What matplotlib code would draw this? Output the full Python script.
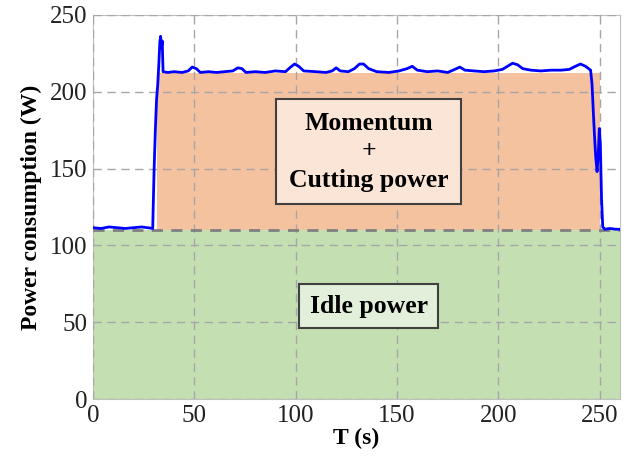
import numpy as np
import matplotlib
matplotlib.use("Agg")
import matplotlib.pyplot as plt

# measured power trace
t = [0, 4, 8, 12, 16, 20, 24, 27, 29.5, 30.2, 30.8, 31.4, 32.0, 32.6, 33.0, 33.4, 33.8, 34.2, 34.6,
     37, 40, 44, 47, 49, 51, 53, 57, 61, 65, 69, 71.5, 73.5, 75.5, 80, 85, 90, 95, 97.5, 99.5, 101.5,
     104, 110, 115, 118, 120, 122, 126, 129, 131.5, 133.5, 136, 140, 146, 151, 155, 157.5, 160, 165,
     170, 175, 178.5, 181, 183.5, 188, 193, 198, 202, 204.5, 207, 209.5, 212, 216, 221, 226, 231,
     235, 238, 240.5, 243, 245.5, 246.2, 246.8, 247.4, 248.0, 248.7, 249.3, 249.8, 250.3, 250.9,
     251.5, 252.5, 255, 258, 260]
power = [111.5, 111, 112, 111.5, 111, 111.5, 112, 111.5, 111, 150, 175, 195, 205, 220, 232, 236, 228,
         233, 213, 212.5, 213, 212.5, 213.5, 216, 215, 212.5, 213, 212.5, 213, 213.5, 215.5, 215, 212.5,
         213, 212.5, 213.5, 213, 216, 218, 216.5, 213.5, 213, 212.5, 213.5, 215.5, 213.5, 213, 215,
         218, 218, 215, 213, 212.5, 213.5, 215, 216.5, 214, 213, 213.5, 212.5, 214.5, 216, 214, 213.5,
         213, 213.5, 214.5, 216.5, 218.5, 217.5, 215, 214, 213.5, 214, 214, 214.5, 216.5, 218, 216.5,
         214, 205, 188, 172, 158, 148, 160, 176, 166, 130, 112, 110.5, 111, 110.5, 110.5]

idle_level = 110
cut_start, cut_end, cut_level = 31.5, 250, 212

plt.rcParams['font.family'] = ['Liberation Serif', 'DejaVu Serif']

fig = plt.figure(figsize=(6.32, 4.63), dpi=100)
ax = fig.add_axes([0.147, 0.138, 0.834, 0.830])

ax.fill_between([0, 260], 0, idle_level, color='#c4dfb2', zorder=1, lw=0)
ax.fill_between([cut_start, cut_end], idle_level, cut_level, color='#f5c2a0', zorder=1, lw=0)
ax.axhline(idle_level, color='#7f7f7f', ls=(0, (4, 3)), lw=2, zorder=3)
ax.plot(t, power, color='#0000ff', lw=2, zorder=4)

ax.set_xlim(0, 260)
ax.set_ylim(0, 250)
ax.set_xticks([0, 50, 100, 150, 200, 250])
ax.set_yticks([0, 50, 100, 150, 200, 250])
ax.grid(True, color='#a6a6a6', ls=(0, (6, 4)), lw=1, zorder=2)
ax.set_axisbelow(False)
for sp in ax.spines.values():
    sp.set_color('#bfbfbf')
ax.tick_params(length=0, labelsize=18, pad=4, colors='#222222')

ax.set_xlabel('T (s)', fontsize=17, fontweight='bold', labelpad=1)
ax.set_ylabel('Power consumption (W)', fontsize=17, fontweight='bold', labelpad=6)

ax.text(136, 161, 'Momentum\n+\nCutting power', ha='center', va='center', fontsize=18.5,
        fontweight='bold', linespacing=1.3, zorder=5,
        bbox=dict(boxstyle='square,pad=0.5', fc='#fbe5d6', ec='#404040', lw=1.5))
ax.text(136, 60.5, 'Idle power', ha='center', va='center', fontsize=18.5, fontweight='bold', zorder=5,
        bbox=dict(boxstyle='square,pad=0.4', fc='#e2efda', ec='#404040', lw=1.5))

fig.savefig('out.png', dpi=100)
